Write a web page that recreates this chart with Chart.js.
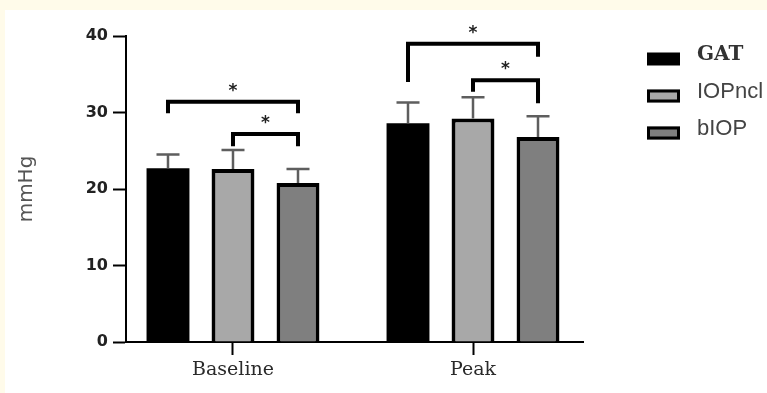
<!DOCTYPE html>
<html><head><meta charset="utf-8">
<script src="https://cdn.jsdelivr.net/npm/chart.js@4.4.1/dist/chart.umd.min.js"></script>
<style>html,body{margin:0;padding:0;background:#fffbea;overflow:hidden}canvas{display:block}</style>
</head><body><canvas id="c" width="767" height="393"></canvas>
<script>
// ---- data ----
const categories = ['Baseline', 'Peak'];
const seriesNames = ['GAT', 'IOPncl', 'bIOP'];
const gat = [22.7, 28.6];
const iopncl = [22.6, 29.2];
const biop = [20.8, 26.8];
const gatErr = [1.8, 2.7];
const iopnclErr = [2.5, 2.8];
const biopErr = [1.8, 2.7];
const yTicks = [0, 10, 20, 30, 40];
// significance brackets
const sigCategory = [0, 0, 1, 1];
const sigFrom = [0, 1, 0, 1];
const sigTo = [2, 2, 2, 2];
const sigLevel = [31.4, 27.2, 39.0, 34.2];
const sigLegLeft = [29.9, 25.6, 34.0, 32.7];
const sigLegRight = [29.9, 25.6, 37.3, 31.2];
const sigLabel = ['*', '*', '*', '*'];

const seriesValues = [gat, iopncl, biop];
const seriesErrors = [gatErr, iopnclErr, biopErr];
const fills = ['#000000', '#a8a8a8', '#7f7f7f'];

const datasets = seriesValues.map((vals, k) => ({
  label: seriesNames[k],
  data: vals.map((v, i) => ({x: i, y: v})),
  backgroundColor: fills[k],
  borderColor: '#000',
  borderWidth: k === 0 ? 0 : 4,
  categoryPercentage: 0.8125,
  barPercentage: 0.66
}));

const bgPlugin = {
  id: 'bg',
  beforeDraw(chart) {
    const ctx = chart.ctx;
    ctx.save();
    ctx.fillStyle = '#fffbea';
    ctx.fillRect(0, 0, chart.width, chart.height);
    ctx.fillStyle = '#ffffff';
    ctx.fillRect(5, 10, chart.width - 5, chart.height - 10);
    ctx.restore();
  }
};

const annoPlugin = {
  id: 'anno',
  afterDatasetsDraw(chart) {
    const ctx = chart.ctx;
    const ys = chart.scales.y;
    ctx.save();
    // error bars
    ctx.strokeStyle = '#5e5e5e';
    ctx.lineWidth = 2.5;
    seriesValues.forEach((vals, k) => {
      const meta = chart.getDatasetMeta(k);
      vals.forEach((v, i) => {
        const bar = meta.data[i];
        const x = bar.x;
        const y0 = ys.getPixelForValue(v);
        const y1 = ys.getPixelForValue(v + seriesErrors[k][i]);
        ctx.beginPath();
        ctx.moveTo(x, y0); ctx.lineTo(x, y1);
        ctx.moveTo(x - 11.5, y1); ctx.lineTo(x + 11.5, y1);
        ctx.stroke();
      });
    });
    // brackets
    ctx.strokeStyle = '#000';
    ctx.lineWidth = 4;
    ctx.lineJoin = 'miter';
    ctx.fillStyle = '#222';
    ctx.font = 'bold 17px "DejaVu Sans"';
    ctx.textAlign = 'center';
    ctx.textBaseline = 'alphabetic';
    sigLevel.forEach((lvl, j) => {
      const c = sigCategory[j];
      const xL = chart.getDatasetMeta(sigFrom[j]).data[c].x;
      const xR = chart.getDatasetMeta(sigTo[j]).data[c].x;
      const yl = ys.getPixelForValue(lvl);
      ctx.beginPath();
      ctx.moveTo(xL, ys.getPixelForValue(sigLegLeft[j]));
      ctx.lineTo(xL, yl);
      ctx.lineTo(xR, yl);
      ctx.lineTo(xR, ys.getPixelForValue(sigLegRight[j]));
      ctx.stroke();
      ctx.fillText(sigLabel[j], (xL + xR) / 2, yl - 6);
    });
    ctx.restore();
  }
};

const legendPlugin = {
  id: 'customLegend',
  afterDraw(chart) {
    const ctx = chart.ctx;
    ctx.save();
    chart.data.datasets.forEach((ds, k) => {
      const yc = 59 + k * 37;
      const bx = 647, bw = 33, bh = 13;
      ctx.fillStyle = ds.backgroundColor;
      ctx.fillRect(bx, yc - bh / 2, bw, bh);
      if (ds.borderWidth > 0) {
        ctx.strokeStyle = '#000';
        ctx.lineWidth = 3;
        ctx.strokeRect(bx + 1.5, yc - bh / 2 + 1.5, bw - 3, bh - 3);
      }
      ctx.textAlign = 'left';
      ctx.textBaseline = 'middle';
      if (k === 0) {
        ctx.font = 'bold 20px "DejaVu Serif"';
        ctx.fillStyle = '#333';
      } else {
        ctx.font = '22px "Liberation Sans"';
        ctx.fillStyle = '#444';
      }
      ctx.fillText(ds.label, 697, yc - 4);
    });
    ctx.restore();
  }
};

new Chart(document.getElementById('c'), {
  type: 'bar',
  data: { datasets },
  options: {
    responsive: false,
    devicePixelRatio: 1,
    animation: false,
    layout: { padding: { top: 36, right: 184, bottom: 0, left: 0 } },
    plugins: { legend: { display: false }, tooltip: { enabled: false } },
    scales: {
      x: {
        type: 'linear',
        min: -0.4458,
        max: 1.4583,
        offset: false,
        afterBuildTicks: s => { s.ticks = categories.map((c, i) => ({ value: i })); },
        afterFit: s => { s.height = 51; },
        ticks: {
          callback: v => categories[v] !== undefined ? categories[v] : '',
          font: { family: 'DejaVu Serif', size: 19 },
          color: '#2a2a2a',
          padding: 4,
          autoSkip: false,
          maxRotation: 0
        },
        grid: { offset: false, drawOnChartArea: false, tickLength: 13, tickWidth: 2, tickColor: '#000' },
        border: { color: '#000', width: 2 }
      },
      y: {
        min: 0,
        max: 40,
        afterBuildTicks: s => { s.ticks = yTicks.map(v => ({ value: v })); },
        afterFit: s => { s.width = 126; },
        ticks: { font: { family: 'DejaVu Sans', size: 16, weight: 'bold' }, color: '#222', padding: 5 },
        grid: { drawOnChartArea: false, tickLength: 13, tickWidth: 2, tickColor: '#000' },
        border: { color: '#000', width: 2 },
        title: {
          display: true, text: 'mmHg',
          font: { family: 'DejaVu Sans', size: 20 }, color: '#555',
          padding: { top: 15, bottom: 0 }
        }
      }
    }
  },
  plugins: [bgPlugin, annoPlugin, legendPlugin]
});
</script>
</body></html>
